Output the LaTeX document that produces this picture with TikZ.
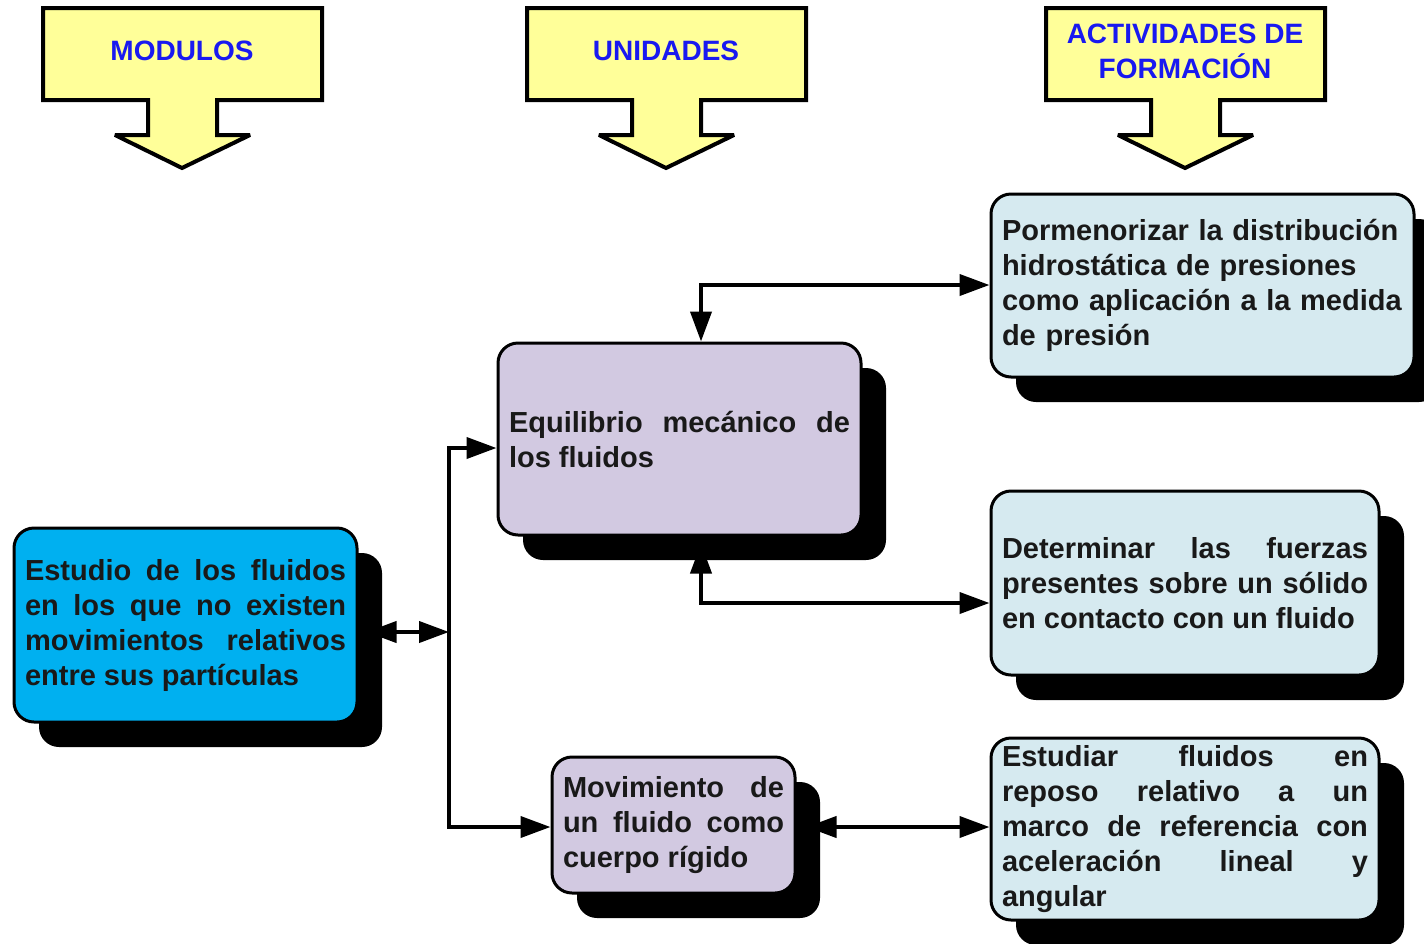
\documentclass[tikz,border=0pt]{standalone}
\usepackage{fontspec}
\setmainfont{Liberation Sans}
\usetikzlibrary{arrows.meta,shadows,calc}
\pgfdeclarelayer{background}
\pgfsetlayers{background,main}
\definecolor{hdrfill}{RGB}{255,255,153}
\definecolor{hdrtext}{RGB}{25,25,240}
\definecolor{bluebox}{RGB}{0,176,240}
\definecolor{lilac}{RGB}{210,201,225}
\definecolor{paleblue}{RGB}{214,234,240}
\definecolor{txt}{RGB}{25,25,25}
\newcommand\bxparams{\hyphenpenalty=10000 \tolerance=9999 \emergencystretch=2em\relax}
\begin{document}
\begin{tikzpicture}[x=1pt,y=-1pt,
  hdr/.style={fill=hdrfill,draw=black,line width=4pt,line join=miter,miter limit=3},
  hdrtxt/.style={font=\fontsize{28}{35}\selectfont\bfseries,text=hdrtext,align=center,inner sep=0pt},
  box/.style={draw=black,line width=3pt,rounded corners=20pt,inner xsep=11pt,inner ysep=2pt,
    font=\fontsize{29}{35}\selectfont\bfseries,execute at begin node=\bxparams,
    text=txt,drop shadow={shadow xshift=25pt,shadow yshift=-25pt,fill=black,opacity=1}},
  just/.style={align=justify},
  link/.style={line width=4pt},
  tip/.tip={Triangle[length=30pt,width=21pt]}
]
\useasboundingbox (0,0) rectangle (1424,943);

% header arrows
\foreach \dx/\nm/\txt in {0/h1/MODULOS,484/h2/UNIDADES,1003/h3/{ACTIVIDADES DE\\FORMACIÓN}}{
  \begin{scope}[xshift=\dx pt]
    \draw[hdr] (43,8) -- (322,8) -- (322,100) -- (217,100) -- (217,135) -- (250,135)
      -- (182,168) -- (115,135) -- (148,135) -- (148,100) -- (43,100) -- cycle;
    \node[hdrtxt] (\nm) at (182,51) {\txt};
  \end{scope}
}

% boxes
\node[box,just,fill=bluebox,text width=321pt,minimum height=194pt] (est) at (185.5,625)
  {Estudio de los fluidos\linebreak en los que no existen\linebreak movimientos relativos\linebreak entre sus partículas};
\node[box,just,fill=lilac,text width=341pt,minimum height=192pt] (eq) at (679.5,439)
  {Equilibrio mecánico de\linebreak los fluidos};
\node[box,just,fill=lilac,text width=221pt,minimum height=136pt] (mov) at (673.5,825)
  {Movimiento de\linebreak un fluido como\linebreak cuerpo rígido};
\node[box,align=left,fill=paleblue,text width=401pt,minimum height=183pt] (por) at (1202.5,285.5)
  {Pormenorizar la distribución\\hidrostática de presiones\\como aplicación a la medida\\de presión};
\node[box,just,fill=paleblue,text width=366pt,minimum height=184pt] (det) at (1185,583)
  {Determinar las fuerzas\linebreak presentes sobre un sólido\linebreak en contacto con un fluido};
\node[box,just,fill=paleblue,text width=366pt,minimum height=182pt] (estu) at (1185,829)
  {Estudiar fluidos en\linebreak reposo relativo a un\linebreak marco de referencia con\linebreak aceleración lineal y\linebreak angular};

% connectors
\coordinate (tr) at (449,632);
\coordinate (ttop) at (449,448);
\coordinate (tbot) at (449,827);
\coordinate (c1) at (701,285);
\coordinate (c2) at (701,603);
\coordinate (c3) at (0,827);
\begin{pgfonlayer}{background}
  \draw[link,{tip}-{tip}] ($(est.east |- tr)+(8,0)$) -- (tr);
  \draw[link,line cap=rect] (ttop) -- (tbot);
  \draw[link,-{tip}] (ttop) -- (ttop -| eq.west);
  \draw[link,-{tip}] (tbot) -- (tbot -| mov.west);
  \draw[link,{tip}-{tip}] (c1 |- eq.north) -- (c1) -- (c1 -| por.west);
  \draw[link,{tip}-{tip}] ($(c2 |- eq.south)+(0,7)$) -- (c2) -- (c2 -| det.west);
  \draw[link,{tip}-{tip}] ($(c3 -| mov.east)+(10,0)$) -- (c3 -| estu.west);
\end{pgfonlayer}
\end{tikzpicture}
\end{document}
